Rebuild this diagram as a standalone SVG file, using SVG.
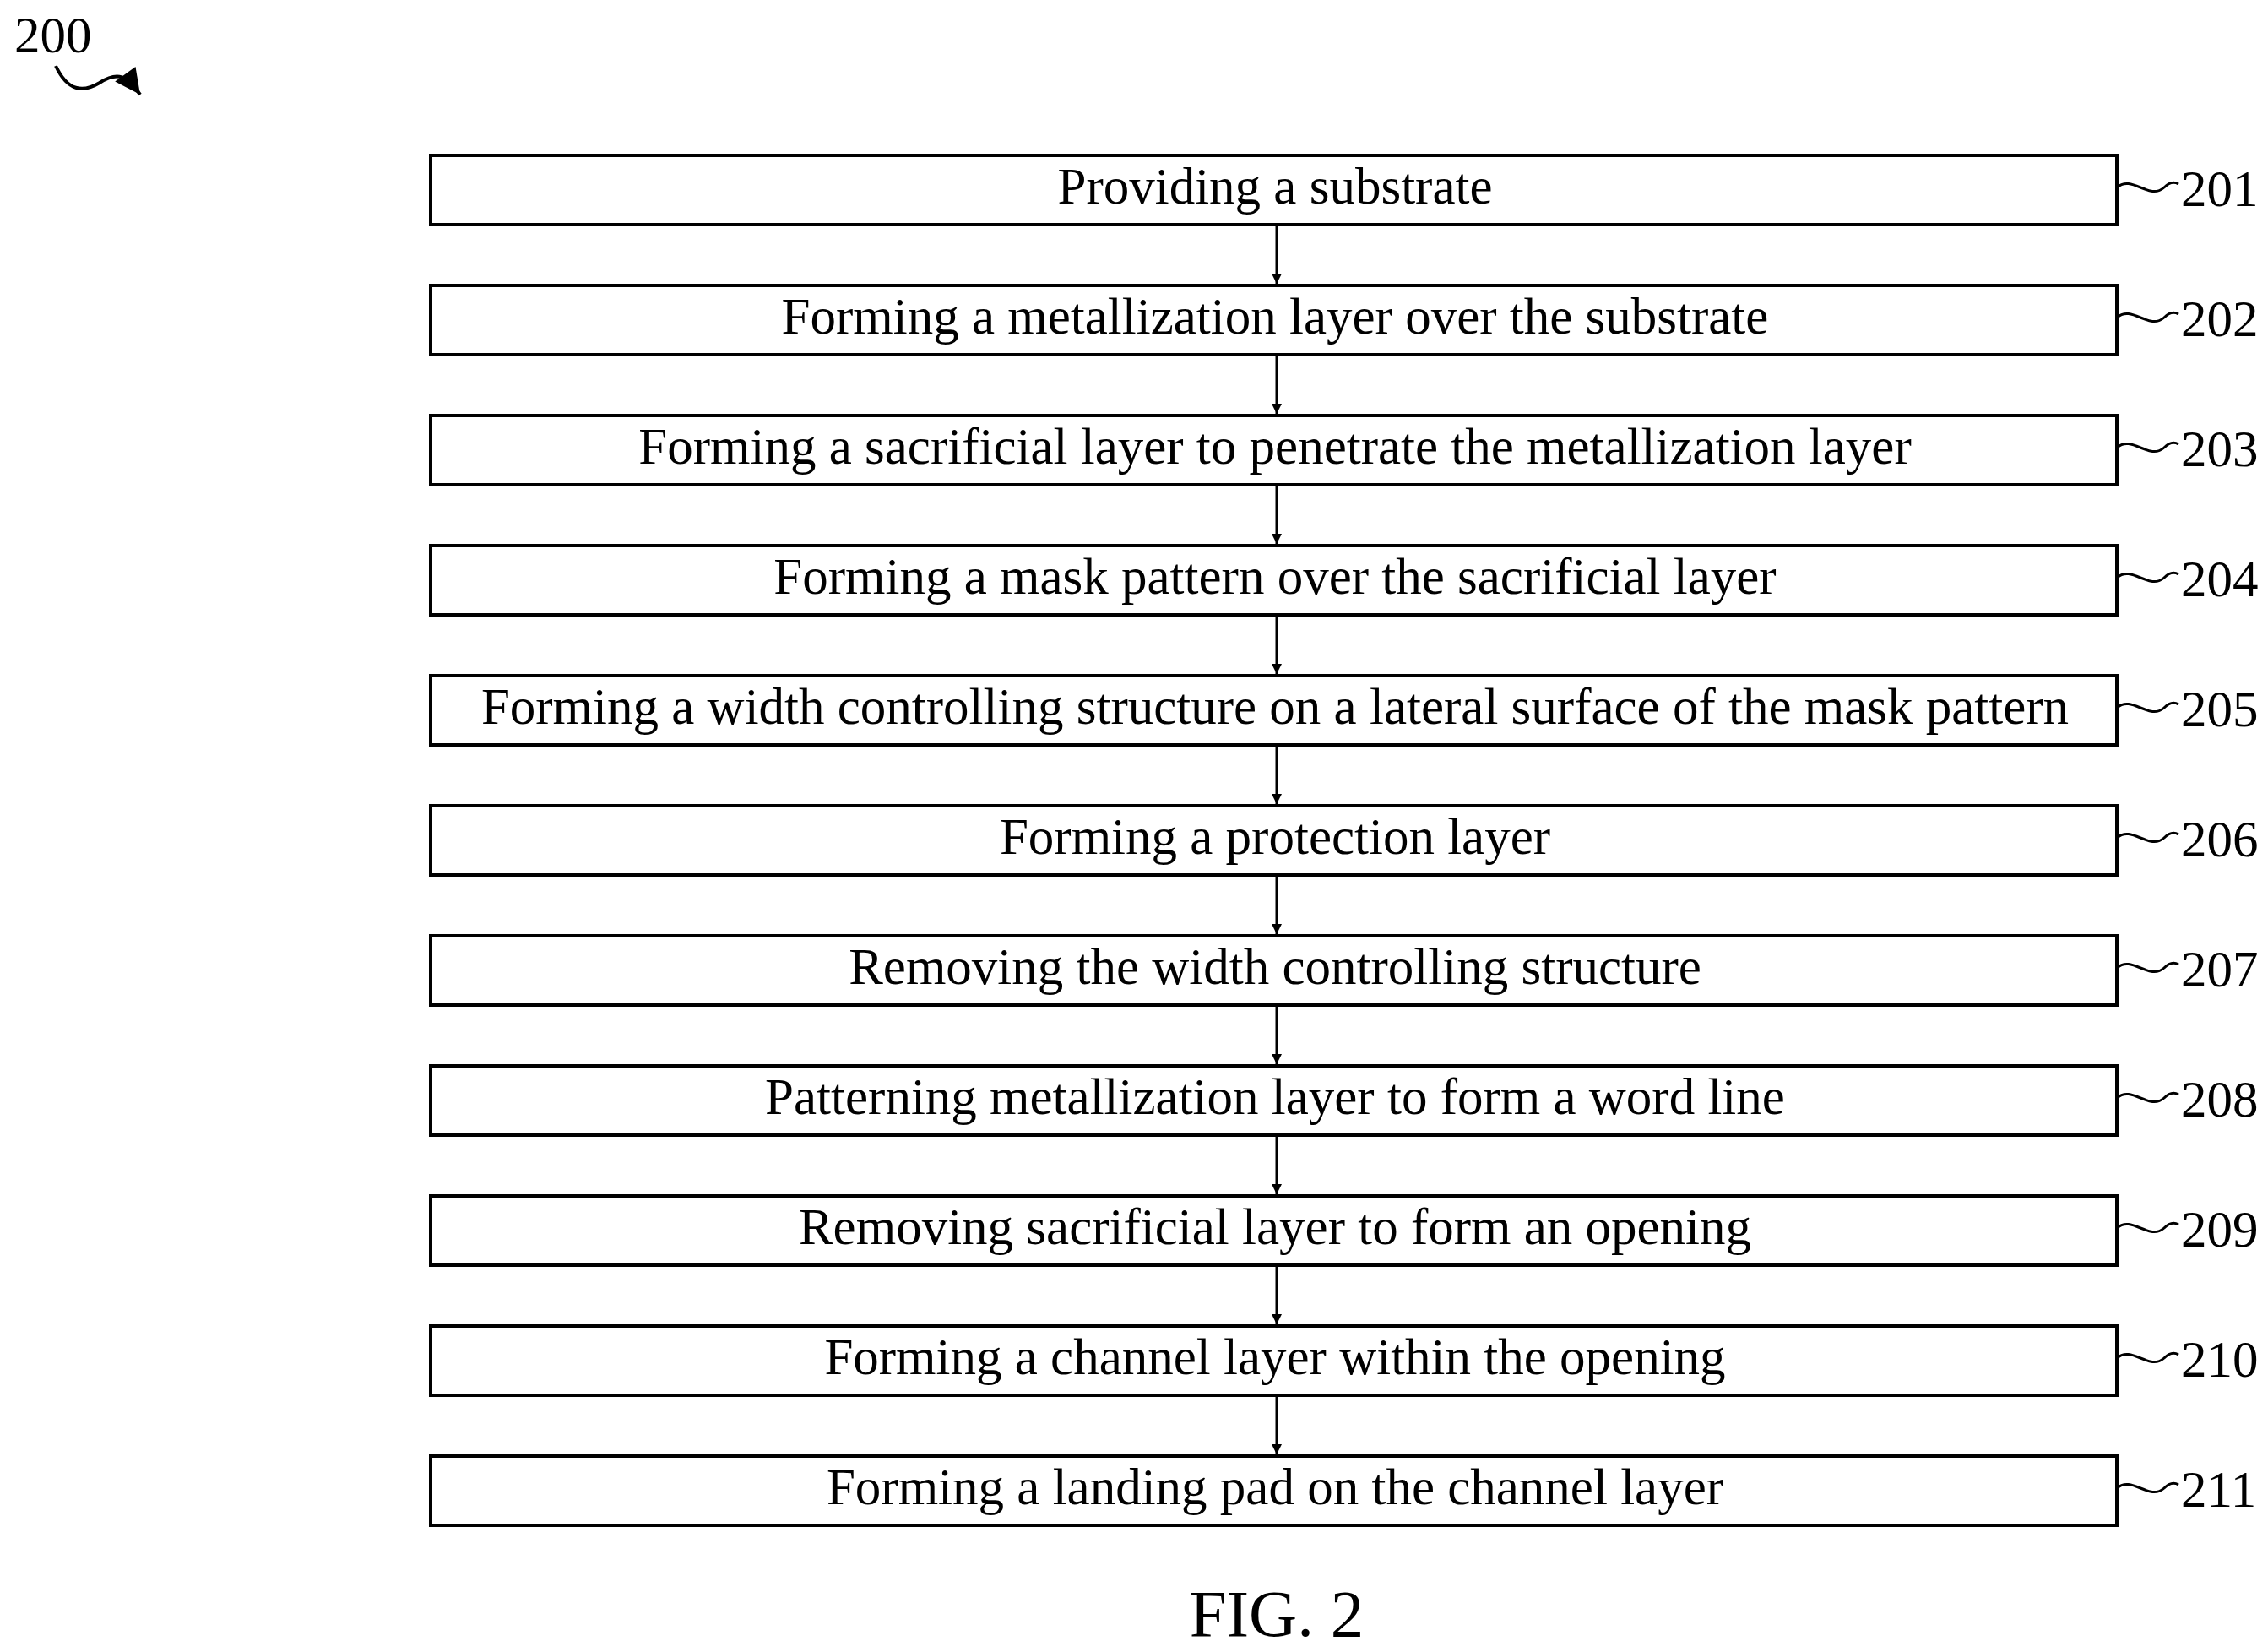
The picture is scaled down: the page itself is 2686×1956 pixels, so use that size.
<svg xmlns="http://www.w3.org/2000/svg" width="2686" height="1956" viewBox="0 0 2686 1956">
<defs>
<marker id="ah" viewBox="0 0 10 10" refX="10" refY="5" markerWidth="16" markerHeight="12" markerUnits="userSpaceOnUse" orient="auto"><path d="M0,0 L10,5 L0,10 z" fill="#000"/></marker>
<marker id="big" viewBox="0 0 10 10" refX="10" refY="5" markerWidth="46" markerHeight="30" markerUnits="userSpaceOnUse" orient="auto"><path d="M0,0 L10,5 L0,10 z" fill="#000"/></marker>
</defs>
<style>
.b{fill:#fff;stroke:#000;stroke-width:4}
.t{font-family:"Liberation Serif",serif;font-size:61px;fill:#000;text-anchor:middle}
.n{font-family:"Liberation Serif",serif;font-size:61px;fill:#000}
.w{fill:none;stroke:#000;stroke-width:3}
.c{stroke:#000;stroke-width:3;marker-end:url(#ah)}
</style>
<rect width="2686" height="1956" fill="#fff"/>
<text class="n" x="17" y="62">200</text>
<path class="w" d="M66,78 C80,108 98,110 118,98 C140,84 150,90 166,112" marker-end="url(#big)" style="stroke-width:4"/>
<g id="connectors">
<line class="c" x1="1512" y1="266" x2="1512" y2="336"/>
<line class="c" x1="1512" y1="420" x2="1512" y2="490"/>
<line class="c" x1="1512" y1="574" x2="1512" y2="644"/>
<line class="c" x1="1512" y1="728" x2="1512" y2="798"/>
<line class="c" x1="1512" y1="882" x2="1512" y2="952"/>
<line class="c" x1="1512" y1="1036" x2="1512" y2="1106"/>
<line class="c" x1="1512" y1="1190" x2="1512" y2="1260"/>
<line class="c" x1="1512" y1="1344" x2="1512" y2="1414"/>
<line class="c" x1="1512" y1="1498" x2="1512" y2="1568"/>
<line class="c" x1="1512" y1="1652" x2="1512" y2="1722"/>
</g>
<g id="n201"><rect class="b" x="510" y="184" width="1997" height="82"/><text class="t" x="1510" y="241">Providing a substrate</text><path class="w" d="M2507,222 C2525,206 2545,238 2563,222 C2569,216 2575,215 2580,218"/><text class="n" x="2583" y="244">201</text></g>
<g id="n202"><rect class="b" x="510" y="338" width="1997" height="82"/><text class="t" x="1510" y="395">Forming a metallization layer over the substrate</text><path class="w" d="M2507,376 C2525,360 2545,392 2563,376 C2569,370 2575,369 2580,372"/><text class="n" x="2583" y="398">202</text></g>
<g id="n203"><rect class="b" x="510" y="492" width="1997" height="82"/><text class="t" x="1510" y="549">Forming a sacrificial layer to penetrate the metallization layer</text><path class="w" d="M2507,530 C2525,514 2545,546 2563,530 C2569,524 2575,523 2580,526"/><text class="n" x="2583" y="552">203</text></g>
<g id="n204"><rect class="b" x="510" y="646" width="1997" height="82"/><text class="t" x="1510" y="703">Forming a mask pattern over the sacrificial layer</text><path class="w" d="M2507,684 C2525,668 2545,700 2563,684 C2569,678 2575,677 2580,680"/><text class="n" x="2583" y="706">204</text></g>
<g id="n205"><rect class="b" x="510" y="800" width="1997" height="82"/><text class="t" x="1510" y="857">Forming a width controlling structure on a lateral surface of the mask pattern</text><path class="w" d="M2507,838 C2525,822 2545,854 2563,838 C2569,832 2575,831 2580,834"/><text class="n" x="2583" y="860">205</text></g>
<g id="n206"><rect class="b" x="510" y="954" width="1997" height="82"/><text class="t" x="1510" y="1011">Forming a protection layer</text><path class="w" d="M2507,992 C2525,976 2545,1008 2563,992 C2569,986 2575,985 2580,988"/><text class="n" x="2583" y="1014">206</text></g>
<g id="n207"><rect class="b" x="510" y="1108" width="1997" height="82"/><text class="t" x="1510" y="1165">Removing the width controlling structure</text><path class="w" d="M2507,1146 C2525,1130 2545,1162 2563,1146 C2569,1140 2575,1139 2580,1142"/><text class="n" x="2583" y="1168">207</text></g>
<g id="n208"><rect class="b" x="510" y="1262" width="1997" height="82"/><text class="t" x="1510" y="1319">Patterning metallization layer to form a word line</text><path class="w" d="M2507,1300 C2525,1284 2545,1316 2563,1300 C2569,1294 2575,1293 2580,1296"/><text class="n" x="2583" y="1322">208</text></g>
<g id="n209"><rect class="b" x="510" y="1416" width="1997" height="82"/><text class="t" x="1510" y="1473">Removing sacrificial layer to form an opening</text><path class="w" d="M2507,1454 C2525,1438 2545,1470 2563,1454 C2569,1448 2575,1447 2580,1450"/><text class="n" x="2583" y="1476">209</text></g>
<g id="n210"><rect class="b" x="510" y="1570" width="1997" height="82"/><text class="t" x="1510" y="1627">Forming a channel layer within the opening</text><path class="w" d="M2507,1608 C2525,1592 2545,1624 2563,1608 C2569,1602 2575,1601 2580,1604"/><text class="n" x="2583" y="1630">210</text></g>
<g id="n211"><rect class="b" x="510" y="1724" width="1997" height="82"/><text class="t" x="1510" y="1781">Forming a landing pad on the channel layer</text><path class="w" d="M2507,1762 C2525,1746 2545,1778 2563,1762 C2569,1756 2575,1755 2580,1758"/><text class="n" x="2583" y="1784">211</text></g>
<text class="t" x="1512" y="1937" style="font-size:79px">FIG. 2</text>
</svg>
